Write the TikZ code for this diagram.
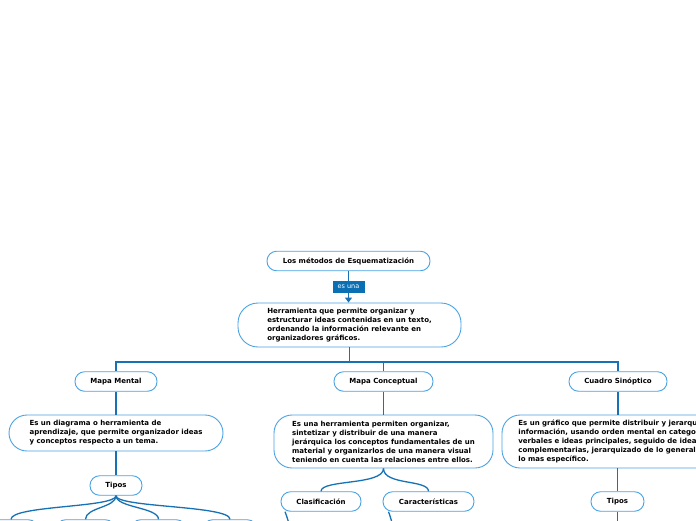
\documentclass[tikz,border=0pt]{standalone}
\usepackage{fontspec}
\setmainfont{DejaVu Sans}
\usetikzlibrary{arrows.meta}
\definecolor{bord}{HTML}{4AA3E3}
\definecolor{conncol}{HTML}{1672B4}
\definecolor{lblfill}{HTML}{0B6FB3}
\begin{document}
\begin{tikzpicture}[x=1pt,y=-1pt,
 pill/.style={draw=bord, line width=0.9pt, fill=white, rounded corners=9.5pt, minimum height=19.5pt, inner sep=0pt, font=\bfseries\fontsize{7}{8}\selectfont},
 desc/.style={draw=bord, line width=0.9pt, fill=white, rounded corners=18pt, inner sep=0pt, align=left, font=\bfseries\fontsize{7}{9}\selectfont},
 conn/.style={draw=conncol, line width=1.3pt},
 lbl/.style={fill=lblfill, text=white, font=\fontsize{6.5}{7}\selectfont, inner sep=0pt, minimum width=32pt, minimum height=12pt}]
\useasboundingbox (0,0) rectangle (696,520);
\clip (0,0) rectangle (696,520);
\fill[white] (0,0) rectangle (696,520);

\coordinate (bus) at (349.5,362);
\coordinate (clx) at (292,545);
\coordinate (cax) at (395,545);
\coordinate (trx) at (617.5,540);

\node[pill, minimum width=163pt] (root) at (348.5,261) {Los métodos de Esquematización};
\node[desc, minimum width=223pt, minimum height=44pt, rounded corners=20pt] (main) at (349.5,325) {Herramienta que permite organizar y\\estructurar ideas contenidas en un texto,\\ordenando la información relevante en\\organizadores gráficos.};
\node[pill, minimum width=82pt] (mm) at (116,381.5) {Mapa Mental};
\node[pill, minimum width=99pt] (mc) at (383.5,381.5) {Mapa Conceptual};
\node[pill, minimum width=98pt] (cs) at (618,381.5) {Cuadro Sinóptico};
\node[desc, minimum width=214pt, minimum height=36pt] (mmd) at (116,433) {Es un diagrama o herramienta de\\aprendizaje, que permite organizador ideas\\y conceptos respecto a un tema.};
\node[desc, minimum width=219pt, minimum height=53pt] (mcd) at (383.5,441.5) {Es una herramienta permiten organizar,\\sintetizar y distribuir de una manera\\jerárquica los conceptos fundamentales de un\\material y organizarlos de una manera visual\\teniendo en cuenta las relaciones entre ellos.};
\node[desc, minimum width=236pt, minimum height=53pt] (csd) at (620,441.5) {Es un gráfico que permite distribuir y jerarquizar la\\información, usando orden mental en categorías\\verbales e ideas principales, seguido de ideas\\complementarias, jerarquizado de lo general a\\lo mas específico.};
\node[pill, minimum width=52pt] (tl) at (116,485.5) {Tipos};
\node[pill, minimum width=80pt] (cl) at (321,501.5) {Clasificación};
\node[pill, minimum width=91pt] (ca) at (428.5,501.5) {Características};
\node[pill, minimum width=53pt] (tr) at (617.5,501.5) {Tipos};
\node[pill, minimum width=54pt] (b1) at (11,529.5) {};
\node[pill, minimum width=59pt] (b2) at (85.5,529.5) {};
\node[pill, minimum width=55pt] (b3) at (158.5,529.5) {};
\node[pill, minimum width=54pt] (b4) at (230,529.5) {};

\draw[conn,-{Triangle[length=5pt,width=7pt]}] (root.south) -- node[lbl]{es una} (root.south |- main.north);
\draw[conn] (main.south) -- (bus);
\draw[conn] (bus) -| (mm.north);
\draw[conn] (bus) -| (mc.north);
\draw[conn] (bus) -| (cs.north);
\draw[conn] (mm.south) -- (mmd.north);
\draw[conn] (mmd.south) -- (tl.north);
\draw[conn] (mc.south) -- (mcd.north);
\draw[conn] (cs.south) -- (cs.south |- csd.north);
\draw[conn] (tr.north |- csd.south) -- (tr.north);
\draw[conn] (tr.south) -- (trx);
\draw[conn] (mcd.south) .. controls +(0,17) and +(0,-12) .. (cl.north);
\draw[conn] (mcd.south) .. controls +(0,17) and +(0,-12) .. (ca.north);
\draw[conn] ([xshift=-36pt]cl.south) .. controls +(2,5) and +(0,-14) .. (clx);
\draw[conn] ([xshift=-40pt]ca.south) .. controls +(2,5) and +(0,-14) .. (cax);
\draw[conn] (tl.south) .. controls +(0,12) and +(0,-14) .. (b1.north);
\draw[conn] (tl.south) .. controls +(0,12) and +(0,-12) .. (b2.north);
\draw[conn] (tl.south) .. controls +(0,12) and +(0,-12) .. (b3.north);
\draw[conn] (tl.south) .. controls +(0,12) and +(0,-14) .. (b4.north);
\end{tikzpicture}
\end{document}
